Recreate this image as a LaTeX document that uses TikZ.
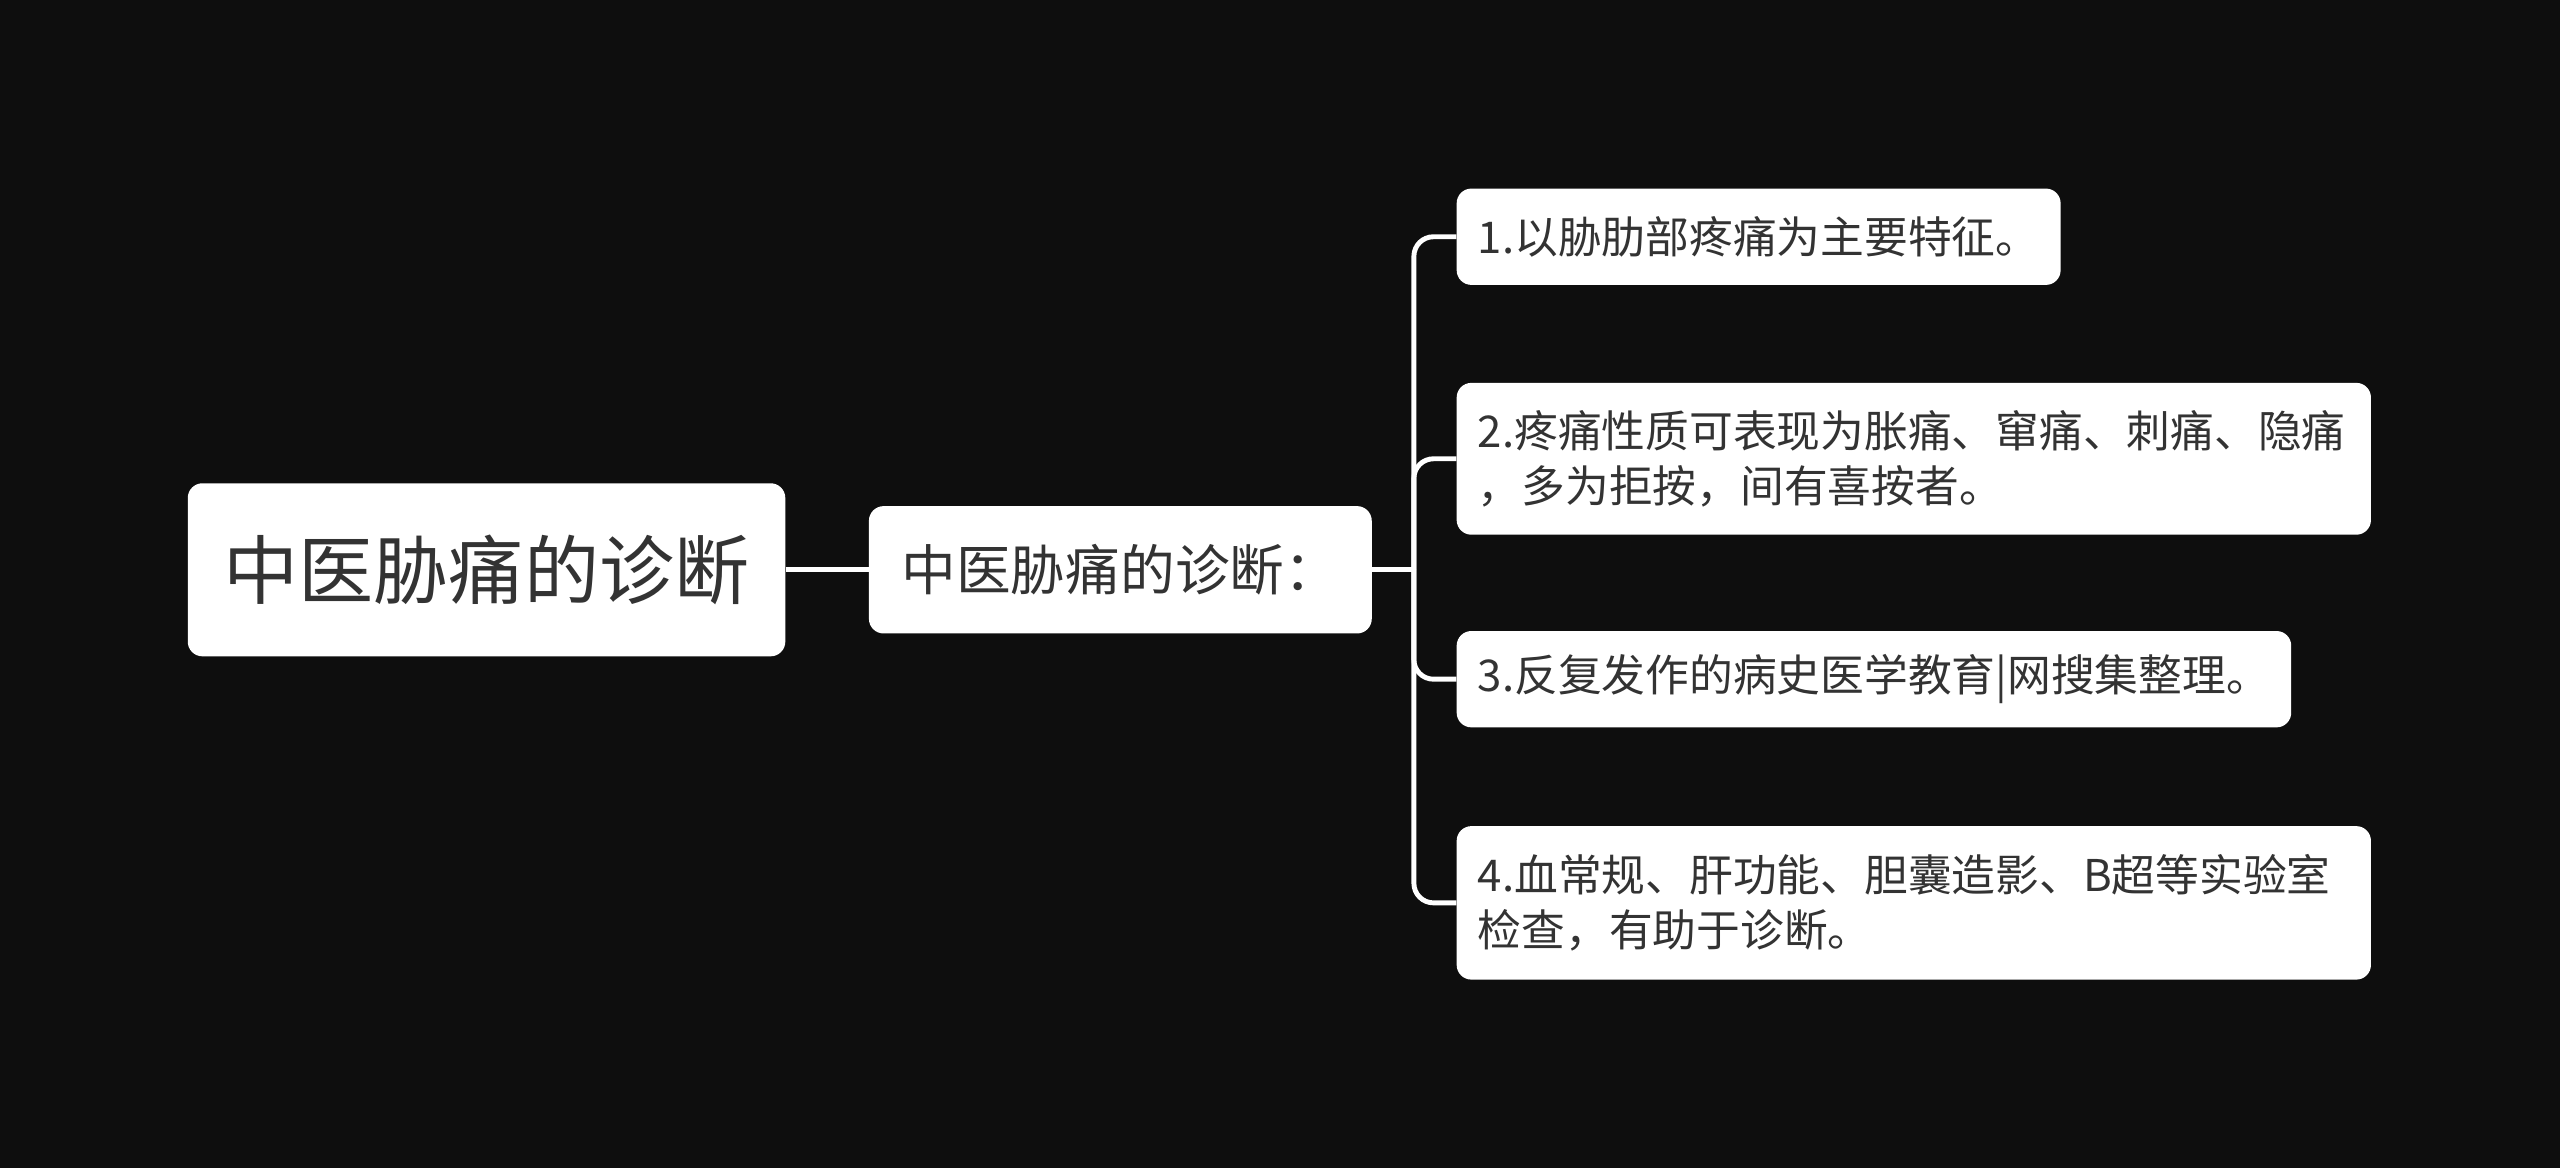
\documentclass[tikz,border=0pt]{standalone}
\usepackage{fontspec}
\setmainfont{Noto Sans CJK SC}
\usetikzlibrary{positioning}
\definecolor{bgdark}{HTML}{0E0E0E}
\definecolor{txtdark}{HTML}{333333}
\begin{document}
\begin{tikzpicture}[x=1pt,y=1pt,
		box/.style={rectangle,fill=white,rounded corners=9pt,text=txtdark,inner xsep=13pt,align=left},
		link/.style={draw=white,line width=3pt,rounded corners=12pt}]
		\useasboundingbox (0,0) rectangle (1568,-715);
		\fill[bgdark] (-5,5) rectangle (1573,-720);
		
		\node[box,minimum width=366pt,minimum height=106pt,font=\fontsize{46}{52}\selectfont,inner xsep=0pt] (root) at (298,-349) {中医胁痛的诊断};
		\node[box,minimum width=308pt,minimum height=78pt,anchor=west,font=\fontsize{33.5}{38}\selectfont] (mid) at (532,-349) {中医胁痛的诊断：};
		
		\node[box,anchor=west,minimum height=59pt,font=\fontsize{26.8}{34}\selectfont] (l1) at (892,-145) {1.以胁肋部疼痛为主要特征。};
		\node[box,anchor=west,minimum height=93pt,text width=534pt,font=\fontsize{26.8}{34}\selectfont] (l2) at (892,-281) {2.疼痛性质可表现为胀痛、窜痛、刺痛、隐痛\\，多为拒按，间有喜按者。};
		\node[box,anchor=west,minimum height=59pt,font=\fontsize{26.8}{34}\selectfont] (l3) at (892,-416) {3.反复发作的病史医学教育|网搜集整理。};
		\node[box,anchor=west,minimum height=94pt,text width=534pt,font=\fontsize{26.8}{34}\selectfont] (l4) at (892,-553) {4.血常规、肝功能、胆囊造影、B超等实验室\\检查，有助于诊断。};
		
		\coordinate (fork) at (866,-349);
		\draw[link] (root.east) -- (mid.west);
		\draw[link] (mid.east) -- (fork);
		\foreach \leaf in {l1,l2,l3,l4}
		\draw[link] (fork) |- (\leaf.west);
\end{tikzpicture}
\end{document}
